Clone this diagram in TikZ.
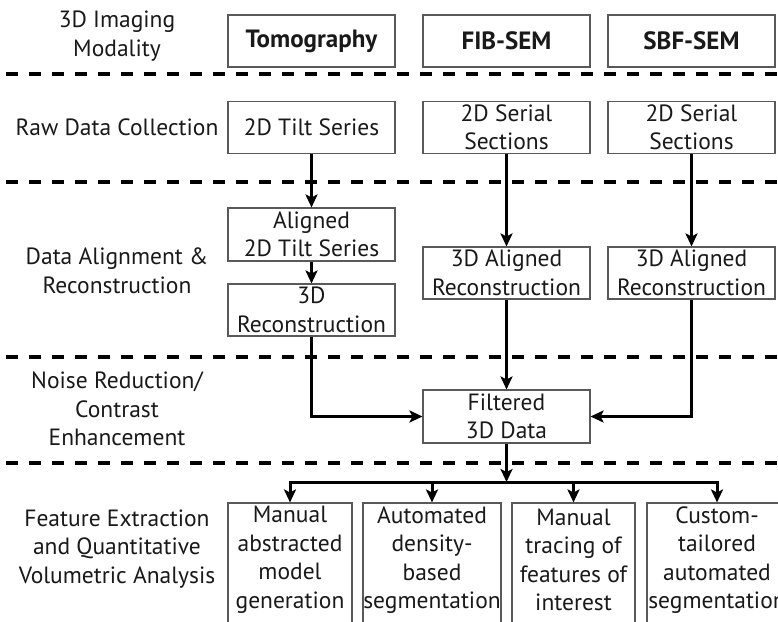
\documentclass[tikz,border=0pt]{standalone}
\usepackage{fontspec}
\setmainfont{PT Sans}
\usetikzlibrary{arrows.meta}
\begin{document}
\begin{tikzpicture}[x=1pt,y=-1pt,
  txt/.style={align=center, inner sep=0pt, text=black!90, font=\fontsize{23.5}{28.5}\selectfont},
  box/.style={txt, draw=black!65, line width=1.1pt, minimum width=167pt, minimum height=52pt, inner sep=1pt},
  hd/.style={box, font=\fontsize{25}{28}\selectfont\bfseries},
  fbox/.style={draw=black!65, line width=1.1pt, minimum height=122pt, inner sep=0pt},
  sep/.style={line width=4pt, dash pattern=on 12pt off 11pt},
  arr/.style={line width=3pt, -{Stealth[length=13pt,width=12pt,inset=3pt]}},
  ln/.style={line width=3pt}]
\useasboundingbox (0,0) rectangle (778,621);
\clip (0,0) rectangle (778,621);
\fill[white] (0,0) rectangle (778,621);

% separators
\foreach \yy in {74,182,357,463}{\draw[sep] (6,\yy) -- (778,\yy);}

% left labels
\node[txt] (l1) at (117,36) {3D Imaging\\Modality};
\node[txt] (l2) at (117,127) {Raw Data Collection};
\node[txt] (l3) at (117,271) {Data Alignment \&\\Reconstruction};
\node[txt] (l4) at (117,409) {Noise Reduction/\\Contrast\\Enhancement};
\node[txt] (l5) at (117,549) {Feature Extraction\\and Quantitative\\Volumetric Analysis};

% headers
\node[hd] (tomo) at (311.5,41) {Tomography};
\node[hd] (fib) at (506.5,41) {FIB-SEM};
\node[hd] (sbf) at (691.5,41) {SBF-SEM};

% raw data
\node[box] (raw1) at (311.5,127.5) {2D Tilt Series};
\node[box] (raw2) at (506.5,127.5) {2D Serial\\Sections};
\node[box] (raw3) at (691.5,127.5) {2D Serial\\Sections};

% alignment
\node[box, minimum height=53pt] (al1) at (311.5,234.5) {Aligned\\2D Tilt Series};
\node[box] (rec1) at (311.5,310) {3D\\Reconstruction};
\node[box] (ar2) at (506.5,273) {3D Aligned\\Reconstruction};
\node[box] (ar3) at (691.5,273) {3D Aligned\\Reconstruction};

% filtered
\node[box, minimum height=53pt] (filt) at (506.5,416.5) {Filtered\\3D Data};

% bottom boxes
\node[fbox, minimum width=124pt] (b1) at (290,564) {};
\node[fbox, minimum width=138pt] (b2) at (432,564) {};
\node[fbox, minimum width=123pt] (b3) at (573.5,564) {};
\node[fbox, minimum width=140pt] (b4) at (717,564) {};
\node[txt] (t1) at (290,560) {Manual\\abstracted\\model\\generation};
\node[txt] (t2) at (432,560) {Automated\\density-\\based\\segmentation};
\node[txt] (t3) at (573.5,560) {Manual\\tracing of\\features of\\interest};
\node[txt] (t4) at (717,560) {Custom-\\tailored\\automated\\segmentation};

% connectors
\draw[arr] (raw1) -- (al1);
\draw[arr] (al1) -- (rec1);
\draw[arr] (raw2) -- (ar2);
\draw[arr] (raw3) -- (ar3);
\draw[arr] (ar2) -- (filt);
\draw[arr] (rec1.south) |- (filt.west);
\draw[arr] (ar3.south) |- (filt.east);
\coordinate (busc) at (506.5,482);
\draw[arr] (filt.south) -- (busc);
\draw[arr] (busc) -| (b1.north);
\draw[arr] (busc) -| (b4.north);
\draw[arr] (b2.north |- busc) -- (b2.north);
\draw[arr] (b3.north |- busc) -- (b3.north);
\end{tikzpicture}
\end{document}
